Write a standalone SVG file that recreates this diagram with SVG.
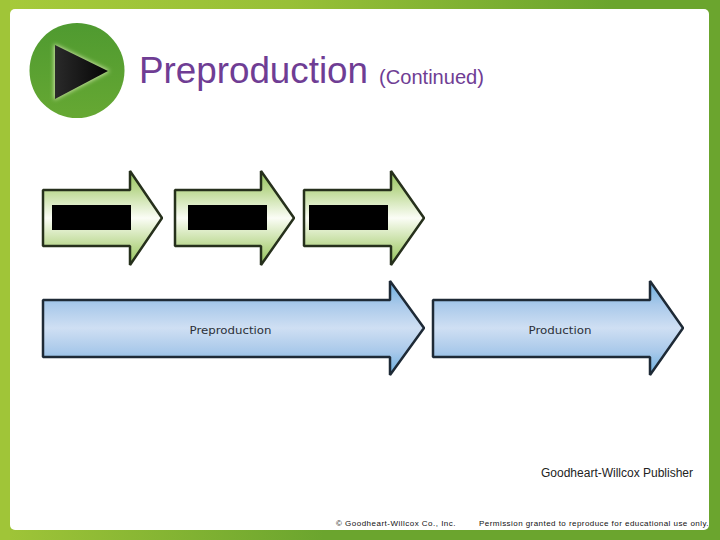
<svg xmlns="http://www.w3.org/2000/svg" width="720" height="540" viewBox="0 0 720 540">
<defs>
<linearGradient id="bg" x1="0" y1="0" x2="1" y2="0"><stop offset="0" stop-color="#a6ca3a"/><stop offset="0.4" stop-color="#98c037"/><stop offset="0.85" stop-color="#6ba52e"/><stop offset="1" stop-color="#6ba52e"/></linearGradient>
<linearGradient id="bgb" x1="0" y1="0" x2="1" y2="0"><stop offset="0" stop-color="#a0c538"/><stop offset="0.45" stop-color="#6ba52e"/><stop offset="1" stop-color="#6ba52e"/></linearGradient>
<linearGradient id="green" x1="0" y1="0" x2="0" y2="1"><stop offset="0" stop-color="#94c45c"/><stop offset="0.2" stop-color="#bcd992"/><stop offset="0.5" stop-color="#fbfdf6"/><stop offset="0.8" stop-color="#bcd992"/><stop offset="1" stop-color="#94c45c"/></linearGradient>
<linearGradient id="blue" x1="0" y1="0" x2="0" y2="1"><stop offset="0" stop-color="#6aaede"/><stop offset="0.25" stop-color="#a9c9ea"/><stop offset="0.5" stop-color="#cfdff3"/><stop offset="0.75" stop-color="#a9c9ea"/><stop offset="1" stop-color="#6aaede"/></linearGradient>
<linearGradient id="play" x1="0" y1="0" x2="1" y2="0"><stop offset="0" stop-color="#2a2a2a"/><stop offset="1" stop-color="#050505"/></linearGradient>
<linearGradient id="disc" x1="0" y1="0" x2="0" y2="1"><stop offset="0" stop-color="#4f9a30"/><stop offset="1" stop-color="#66a833"/></linearGradient>
<filter id="glow" x="-30%" y="-30%" width="160%" height="160%"><feGaussianBlur stdDeviation="2"/></filter>
</defs>
<style>
.ga{fill:url(#green);stroke:#26301c;stroke-width:2.5;stroke-linejoin:bevel}
.ba{fill:url(#blue);stroke:#1e2a36;stroke-width:2.5;stroke-linejoin:bevel}
.t{font-family:"Liberation Sans",Arial,sans-serif}
.lab{font-family:"DejaVu Sans",sans-serif;font-size:11px;fill:#2b3038;text-anchor:middle}
.ft{font-family:"Liberation Sans",Arial,sans-serif;font-size:8px;fill:#111;letter-spacing:0.5px}
</style>
<g id="background">
<rect width="720" height="540" fill="url(#bg)"/>
<rect y="505" width="720" height="35" fill="url(#bgb)"/>
<rect x="0" y="0" width="10" height="540" fill="#a0c538"/>
<rect x="10" y="9" width="699" height="521" rx="5" fill="#fff"/>
</g>
<g id="play-icon">
<circle cx="77" cy="70.500" r="47.500" fill="url(#disc)"/>
<polygon points="54,44 110,71 54,100" fill="#cfe6a8" filter="url(#glow)"/>
<polygon points="55,45 108,71 55,99" fill="url(#play)"/>
</g>
<g id="title">
<text class="t" x="139" y="83" font-size="36.800" fill="#6f3d94" textLength="229" lengthAdjust="spacingAndGlyphs">Preproduction</text>
<text class="t" x="379" y="84" font-size="20" fill="#6f3d94" textLength="105" lengthAdjust="spacingAndGlyphs">(Continued)</text>
</g>
<g id="step-1">
<polygon class="ga" points="43,190 130,190 130,171 162,218 130,265 130,246 43,246"/>
<rect x="52" y="205" width="79" height="25" fill="#000"/>
</g>
<g id="step-2">
<polygon class="ga" points="175,190 261,190 261,171 294,218 261,265 261,246 175,246"/>
<rect x="188" y="205" width="79" height="25" fill="#000"/>
</g>
<g id="step-3">
<polygon class="ga" points="304,190 391,190 391,171 424,218 391,265 391,246 304,246"/>
<rect x="309" y="205" width="79" height="25" fill="#000"/>
</g>
<g id="preproduction">
<polygon class="ba" points="43,300 390,300 390,281 424,328 390,375 390,357 43,357"/>
<text class="lab" x="230.500" y="334" textLength="82" lengthAdjust="spacingAndGlyphs">Preproduction</text>
</g>
<g id="production">
<polygon class="ba" points="433,300 650,300 650,281 683,328 650,375 650,357 433,357"/>
<text class="lab" x="560" y="334" textLength="63" lengthAdjust="spacingAndGlyphs">Production</text>
</g>
<g id="connectors"></g>
<g id="footer">
<text class="t" x="541" y="477" font-size="12" fill="#222" textLength="152">Goodheart-Willcox Publisher</text>
<text class="ft" x="336" y="526" textLength="120">© Goodheart-Willcox Co., Inc.</text>
<text class="ft" x="479" y="526" textLength="230">Permission granted to reproduce for educational use only.</text>
</g>
</svg>
